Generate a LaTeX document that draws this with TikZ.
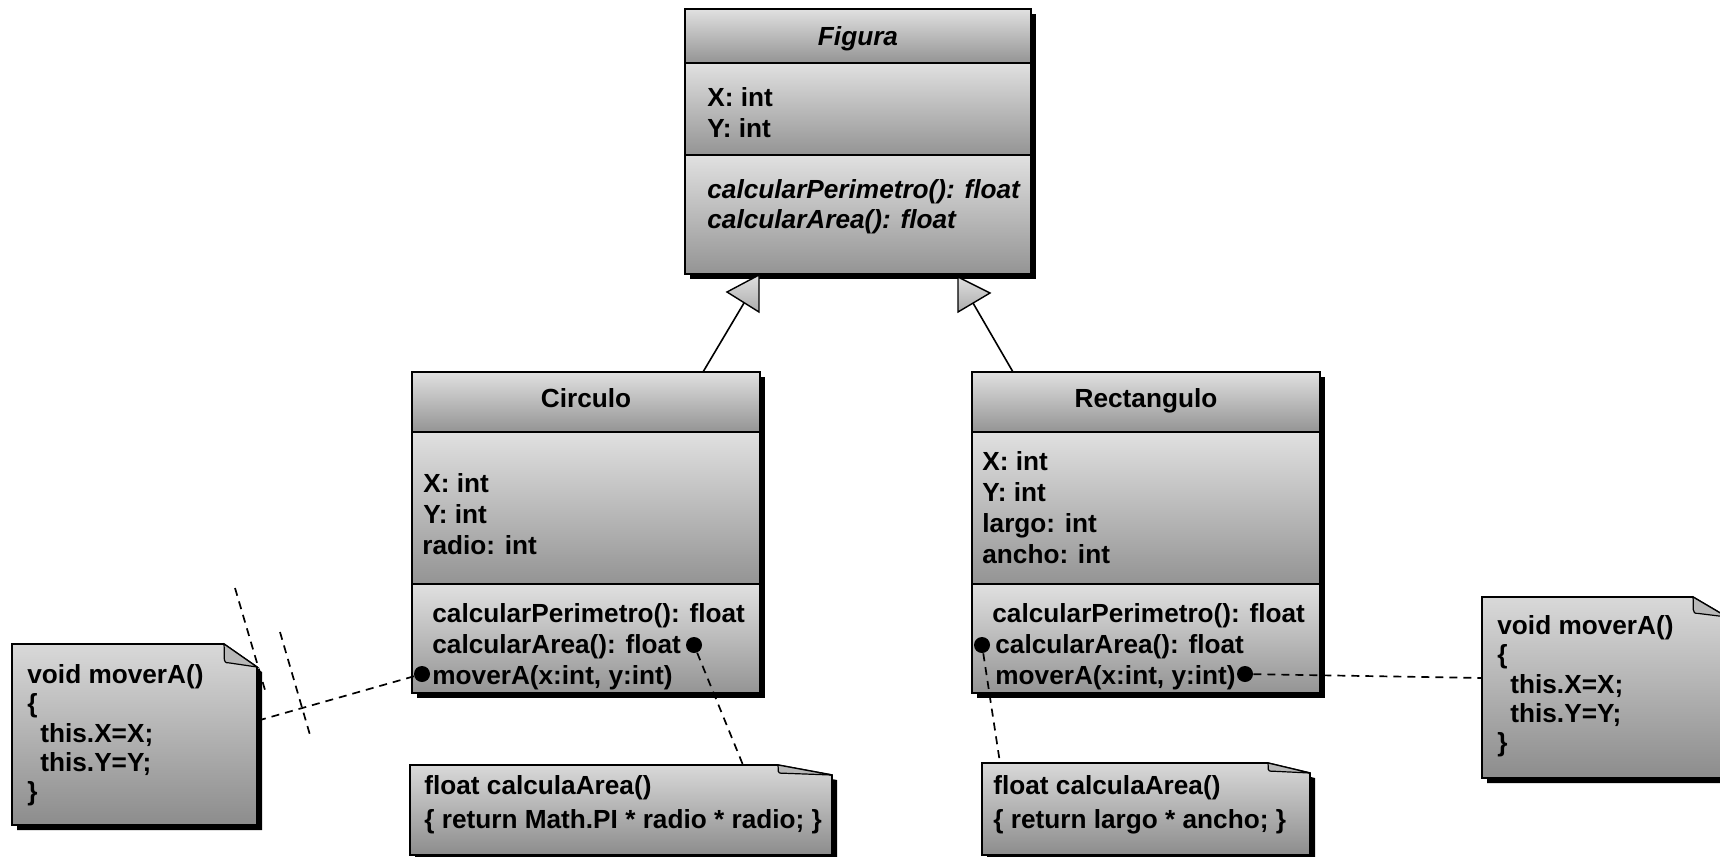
\documentclass[tikz,border=0pt]{standalone}
\usepackage{fontspec}
\setmainfont{Liberation Sans}
\usetikzlibrary{calc}

\definecolor{shTop}{gray}{0.88}
\definecolor{shBot}{gray}{0.58}
\definecolor{ntTop}{gray}{0.85}
\definecolor{ntBot}{gray}{0.55}
\definecolor{flapgray}{gray}{0.72}

\tikzset{
  lbl/.style={anchor=base west, inner sep=0pt, font=\fontsize{13.1pt}{15.5pt}\selectfont\bfseries},
  ttl/.style={anchor=base, inner sep=0pt, font=\fontsize{13.1pt}{15.5pt}\selectfont\bfseries},
  ital/.style={font=\fontsize{13.1pt}{15.5pt}\selectfont\bfseries\itshape},
  outline/.style={draw=black, line width=0.8pt},
  compart/.style={top color=shTop, bottom color=shBot},
  dotn/.style={circle, fill=black, inner sep=0pt, minimum size=8pt},
  notelink/.style={dash pattern=on 4pt off 3pt, line width=0.85pt},
  genline/.style={line width=0.8pt},
  gentip/.style={draw=black, line width=0.7pt, top color=gray!25, bottom color=gray!65},
}

% class box: x1, y1, x2, y2 (outer), first divider, second divider
\newcommand{\classbox}[6]{%
  \fill[black] ({#1+5},{#2+5}) rectangle ({#3+5},{#4+5});
  \shade[compart] (#1,#2) rectangle (#3,#5);
  \shade[compart] (#1,#5) rectangle (#3,#6);
  \shade[compart] (#1,#6) rectangle (#3,#4);
  \draw[outline] (#1,#2) rectangle (#3,#4);
  \draw[outline] (#1,#5) -- (#3,#5);
  \draw[outline] (#1,#6) -- (#3,#6);
}

% note box with folded corner: x1, y1, x2, y2, fold width, fold height
\newcommand{\notebox}[6]{%
  \fill[black] ({#1+5},{#2+5}) -- ({#3-#5+5},{#2+5}) -- ({#3+5},{#2+#6+5})
     -- ({#3+5},{#4+5}) -- ({#1+5},{#4+5}) -- cycle;
  \shadedraw[top color=ntTop, bottom color=ntBot, draw=black, line width=0.8pt]
     (#1,#2) -- ({#3-#5},#2) -- (#3,{#2+#6}) -- (#3,#4) -- (#1,#4) -- cycle;
  \draw[fill=flapgray, line width=0.6pt] ({#3-#5},#2)
     .. controls ({#3-#5+1},{#2+0.55*#6}) and ({#3-#5-2},{#2+0.85*#6}) .. ({#3-#5+5},{#2+0.82*#6})
     -- (#3,{#2+#6}) -- cycle;
}

\begin{document}
\begin{tikzpicture}[x=0.5pt, y=-0.5pt]
\useasboundingbox (0,0) rectangle (1720,857);
\clip (0,0) rectangle (1720,857);

% ---------- Figura ----------
\classbox{685}{9}{1031}{274}{63}{155}
\node[ttl, ital] (figName) at (858,45) {Figura};
\node[lbl] (figX) at (707,106) {X: int};
\node[lbl] (figY) at (707,137) {Y: int};
\node[lbl, ital] (figM1) at (707,198) {calcularPerimetro(): float};
\node[lbl, ital] (figM2) at (707,228) {calcularArea(): float};

% ---------- Circulo ----------
\classbox{412}{372}{760}{693}{432}{584}
\node[ttl] (cirName) at (586,407) {Circulo};
\node[lbl] (cirX) at (423,492) {X: int};
\node[lbl] (cirY) at (423,523) {Y: int};
\node[lbl] (cirR) at (422,554) {radio: int};
\node[lbl] (cirM1) at (432,622) {calcularPerimetro(): float};
\node[lbl] (cirM2) at (432,653) {calcularArea(): float};
\node[lbl] (cirM3) at (432,684) {moverA(x:int, y:int)};
\node[dotn] (cirAreaDot) at (694,645) {};
\node[dotn] (cirMoveDot) at (422,674) {};

% ---------- Rectangulo ----------
\classbox{972}{372}{1320}{693}{432}{584}
\node[ttl] (recName) at (1146,407) {Rectangulo};
\node[lbl] (recX) at (982,470) {X: int};
\node[lbl] (recY) at (982,501) {Y: int};
\node[lbl] (recL) at (982,532) {largo: int};
\node[lbl] (recA) at (982,563) {ancho: int};
\node[lbl] (recM1) at (992,622) {calcularPerimetro(): float};
\node[lbl] (recM2) at (995,653) {calcularArea(): float};
\node[lbl] (recM3) at (995,684) {moverA(x:int, y:int)};
\node[dotn] (recAreaDot) at (982,645) {};
\node[dotn] (recMoveDot) at (1245,674) {};

% ---------- generalization ----------
\coordinate (cirTop) at (703,372);
\coordinate (recTop) at (1013,372);
\coordinate (genL) at (744,303);
\coordinate (genR) at (973,303);
\draw[genline] (cirTop) -- (genL);
\draw[genline] (recTop) -- (genR);
\path[gentip] (759,275) -- (759,312) -- (727,292) -- cycle;
\path[gentip] (958,277) -- (958,312) -- (990,293) -- cycle;

% ---------- notes ----------
\notebox{12}{644}{257}{825}{33}{23}
\node[lbl] (lnA) at (27,683) {void moverA()};
\node[lbl] (lnB) at (27,712) {\{};
\node[lbl] (lnC) at (40,742) {this.X=X;};
\node[lbl] (lnD) at (40,771) {this.Y=Y;};
\node[lbl] (lnE) at (27,800) {\}};

\notebox{1482}{597}{1727}{778}{34}{20}
\node[lbl] (rnA) at (1497,634) {void moverA()};
\node[lbl] (rnB) at (1497,663) {\{};
\node[lbl] (rnC) at (1510,693) {this.X=X;};
\node[lbl] (rnD) at (1510,722) {this.Y=Y;};
\node[lbl] (rnE) at (1497,751) {\}};

\notebox{410}{765}{832}{855}{54}{10}
\node[lbl] (cnA) at (424,794) {float calculaArea()};
\node[lbl] (cnB) at (424,828) {\{ return Math.PI * radio * radio; \}};

\notebox{982}{763}{1310}{855}{42}{10}
\node[lbl] (qnA) at (993,794) {float calculaArea()};
\node[lbl] (qnB) at (993,828) {\{ return largo * ancho; \}};

% ---------- note links ----------
\coordinate (lnoteEnd) at (260,720);
\coordinate (rnoteEnd) at (1482,678);
\coordinate (cnoteEnd) at (743,765);
\coordinate (qnoteEnd) at (1000,763);
\draw[notelink] (cirMoveDot) -- (lnoteEnd);
\draw[notelink] (recMoveDot) -- (rnoteEnd);
\draw[notelink] (cirAreaDot) -- (cnoteEnd);
\draw[notelink] (recAreaDot) -- (qnoteEnd);

% cross marks on the left link
\coordinate (tkAa) at (235,588);
\coordinate (tkAb) at (265,690);
\coordinate (tkBa) at (280,632);
\coordinate (tkBb) at (310,735);
\draw[notelink] (tkAa) -- (tkAb);
\draw[notelink] (tkBa) -- (tkBb);
\end{tikzpicture}
\end{document}
